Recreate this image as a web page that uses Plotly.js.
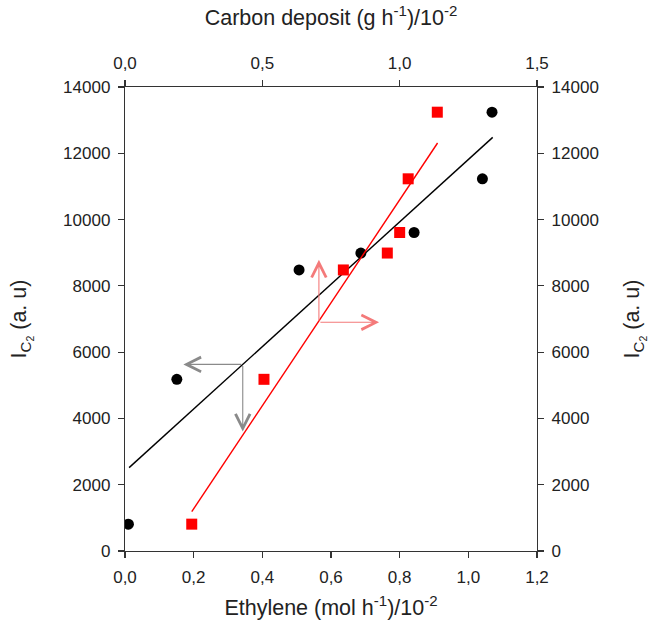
<!DOCTYPE html>
<html>
<head>
<meta charset="utf-8">
<script src="https://cdn.plot.ly/plotly-3.0.1.min.js"></script>
<style>html,body{margin:0;padding:0;background:#fff;}#chart{width:650px;height:633px;}</style>
</head>
<body>
<div id="chart"></div>
<script>
// Ethylene (bottom axis) vs I_C2 (left axis) - black circles
const ethylene = [0.01, 0.151, 0.507, 0.687, 0.842, 1.041, 1.069];
const icEthylene = [810, 5180, 8480, 8990, 9610, 11230, 13240];
// Carbon deposit (top axis) vs I_C2 (right axis) - red squares
const carbon = [0.243, 0.506, 0.795, 0.955, 1.0, 1.031, 1.137];
const icCarbon = [810, 5180, 8480, 8990, 9610, 11230, 13240];
// fitted lines (read endpoints)
const fitEthX = [0.012, 1.071];
const fitEthY = [2516, 12480];
const fitCarbX = [0.243, 1.138];
const fitCarbY = [1187, 12310];
// arrow guides: corner, horizontal tip, vertical tip
const grayCorner = [0.343, 5630];
const grayTipX = 0.170;
const grayTipY = 3602;
const redCorner = [0.706, 6900];
const redTipX = 0.925;
const redTipY = 8786;
// tick labels
const xTickVals = [0, 0.2, 0.4, 0.6, 0.8, 1.0, 1.2];
const xTickText = ['0,0', '0,2', '0,4', '0,6', '0,8', '1,0', '1,2'];
const x2TickVals = [0, 0.5, 1.0, 1.5];
const x2TickText = ['0,0', '0,5', '1,0', '1,5'];
const yTickVals = [0, 2000, 4000, 6000, 8000, 10000, 12000, 14000];
const yTickText = ['0', '2000', '4000', '6000', '8000', '10000', '12000', '14000'];

const FONT = 'Liberation Sans, Arial, sans-serif';
const TXT = '#222';

const traces = [
  {x: fitEthX, y: fitEthY, mode: 'lines', xaxis: 'x', yaxis: 'y',
   line: {color: '#000', width: 1.4}, hoverinfo: 'skip', showlegend: false},
  {x: fitCarbX, y: fitCarbY, mode: 'lines', xaxis: 'x2', yaxis: 'y2',
   line: {color: '#ff0000', width: 1.4}, hoverinfo: 'skip', showlegend: false},
  {x: ethylene, y: icEthylene, mode: 'markers', xaxis: 'x', yaxis: 'y',
   marker: {symbol: 'circle', size: 11, color: '#000'}, showlegend: false},
  {x: carbon, y: icCarbon, mode: 'markers', xaxis: 'x2', yaxis: 'y2',
   marker: {symbol: 'square', size: 11, color: '#ff0000'}, showlegend: false}
];

function arrow(xref, yref, corner, hx, hy, color) {
  return {xref: xref, yref: yref, axref: xref, ayref: yref,
    x: hx, y: hy, ax: corner[0], ay: corner[1], text: '', showarrow: true,
    arrowhead: 5, arrowsize: 2.6, arrowwidth: 1.1, arrowcolor: color, standoff: 0, startstandoff: 0};
}

const annotations = [
  arrow('x', 'y', grayCorner, grayTipX, grayCorner[1], '#8a8a8a'),
  arrow('x', 'y', grayCorner, grayCorner[0], grayTipY, '#8a8a8a'),
  arrow('x2', 'y2', redCorner, redTipX, redCorner[1], '#f47a7a'),
  arrow('x2', 'y2', redCorner, redCorner[0], redTipY, '#f47a7a')
];

const axisCommon = {
  showgrid: false, zeroline: false, showline: true, linecolor: '#333', linewidth: 1.2,
  ticks: 'outside', ticklen: 6, tickwidth: 1.2, tickcolor: '#333',
  tickfont: {family: FONT, size: 17, color: TXT}, automargin: false, fixedrange: true
};

const TITLE_SIZE = 21.5;

const layout = {
  width: 650, height: 633,
  margin: {l: 125, r: 113, t: 87, b: 82, pad: 0},
  paper_bgcolor: '#fff', plot_bgcolor: '#fff',
  showlegend: false,
  font: {family: FONT, color: TXT},
  xaxis: Object.assign({}, axisCommon, {
    range: [0, 1.2], tickvals: xTickVals, ticktext: xTickText, side: 'bottom', anchor: 'y',
    ticklabelstandoff: 4,
    title: {text: 'Ethylene (mol h<sup>-1</sup>)/10<sup>-2</sup>', font: {family: FONT, size: TITLE_SIZE, color: TXT}, standoff: 14}
  }),
  xaxis2: Object.assign({}, axisCommon, {
    range: [0, 1.5], tickvals: x2TickVals, ticktext: x2TickText, side: 'top', overlaying: 'x', anchor: 'y',
    ticklabelstandoff: 4,
    title: {text: 'Carbon deposit (g h<sup>-1</sup>)/10<sup>-2</sup>', font: {family: FONT, size: TITLE_SIZE, color: TXT}, standoff: 22}
  }),
  yaxis: Object.assign({}, axisCommon, {
    range: [0, 14000], tickvals: yTickVals, ticktext: yTickText, side: 'left', anchor: 'x',
    ticklabelstandoff: 4,
    title: {text: 'I<sub>C<sub>2</sub></sub> (a. u)', font: {family: FONT, size: TITLE_SIZE, color: TXT}, standoff: 30}
  }),
  yaxis2: Object.assign({}, axisCommon, {
    range: [0, 14000], tickvals: yTickVals, ticktext: yTickText, side: 'right', overlaying: 'y', anchor: 'x',
    ticklabelstandoff: 4,
    title: {text: 'I<sub>C<sub>2</sub></sub> (a. u)', font: {family: FONT, size: TITLE_SIZE, color: TXT}, standoff: 26}
  }),
  annotations: annotations
};

Plotly.newPlot('chart', traces, layout, {displayModeBar: false, staticPlot: true});
</script>
</body>
</html>
